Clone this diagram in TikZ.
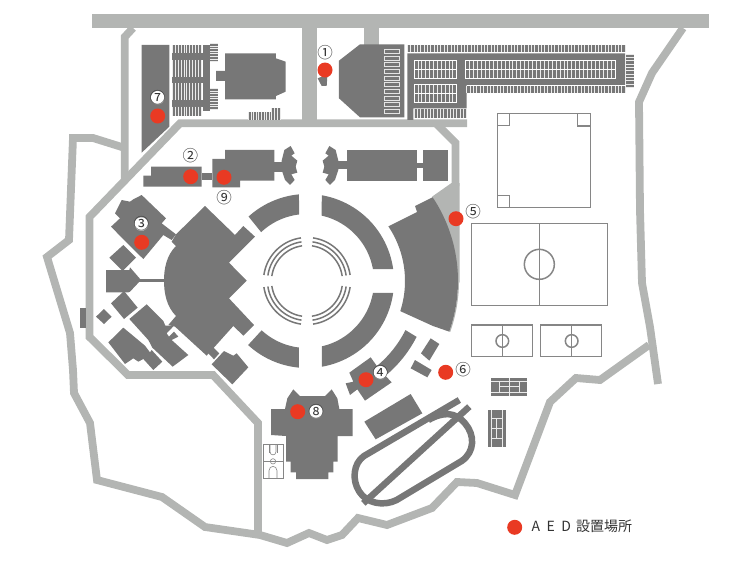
\documentclass[tikz,border=0pt]{standalone}
\usepackage{fontspec}
\setmainfont{Open Sans}
\newfontfamily\jpfont{Noto Sans CJK JP}
\definecolor{bldg}{HTML}{777777}
\definecolor{roadc}{HTML}{B3B5B3}
\definecolor{courtc}{HTML}{868686}
\definecolor{redc}{HTML}{E93A23}
\tikzset{
  road/.style={draw=roadc,line width=7.8pt,line join=miter,line cap=butt},
  bfill/.style={fill=bldg},
  rfill/.style={fill=roadc},
  stripe/.style={draw=white!85!bldg,line width=0.7pt},
  courtline/.style={draw=courtc,line width=1.5pt},
  aed/.style={circle,fill=redc,minimum size=15pt,inner sep=0pt},
  numlabel/.style={circle,fill=white,inner sep=0pt,minimum size=13.5pt,font=\jpfont\fontsize{15.5}{15.5}\selectfont,text=black!80},
}
\newcommand{\circnum}[1]{\makebox[0pt]{\smash{\raisebox{-5.9pt}{#1}}}}
\newcommand{\ringseg}[6]{% r1 r2 outer a1 a2, inner b1 b2
  \fill[bfill] plot[domain=#3:#4,samples=40,smooth] ({307+#2*cos(\x)},{281+#2*sin(\x)})
     -- plot[domain=#6:#5,samples=40,smooth] ({307+#1*cos(\x)},{281+#1*sin(\x)}) -- cycle;}
\newcommand{\thinarc}[3]{\foreach \rr in {35.5,39.5,43.5}{\draw[bldg,line width=1.5pt] plot[domain=#1:#2,samples=30,smooth] ({307+\rr*cos(\x)},{281+\rr*sin(\x)});}}
\newcommand{\vstripes}[5]{%
  \fill[bfill] (#1,#2) rectangle (#3,#4);
  \foreach \i in {0,...,#5}{\pgfmathsetmacro\xx{#1+(#3-#1)/#5*\i}\draw[stripe] (\xx,#2)--(\xx,#4);}}
\newcommand{\hstripes}[5]{%
  \fill[bfill] (#1,#2) rectangle (#3,#4);
  \foreach \i in {0,...,#5}{\pgfmathsetmacro\yy{#2+(#4-#2)/#5*\i}\draw[stripe] (#1,\yy)--(#3,\yy);}}
\newcommand{\gridblock}[5]{%
  \vstripes{#1}{#2}{#3}{#4}{#5}
  \draw[stripe,draw=white,line width=0.8pt] (#1,#2) rectangle (#3,#4);
  \draw[stripe,draw=white,line width=0.8pt] (#1,{(#2+#4)/2}) -- (#3,{(#2+#4)/2});}
\begin{document}
\begin{tikzpicture}[x=1pt,y=-1pt]
\useasboundingbox (0,0) rectangle (750,562);
% roads
\fill[rfill] (92,14) rectangle (709,28);
\fill[rfill] (302,28) rectangle (317,120);
\fill[rfill] (364,28) rectangle (379,46);
\draw[road] (133,28)--(124.7,37)--(124.7,182);
\draw[road] (467,123.3)--(180,123.3)--(89.5,217)--(89.5,337)--(128,375)--(213,375)--(258,423)--(258,535);
\draw[road] (436,123.3)--(455.5,143)--(455.5,186);
\fill[rfill] (451.5,183)--(433,196)--(456,292)--(459.5,282)--(459.5,183)--cycle;
\draw[road] (125,148)--(93,138)--(73,138)--(69,240)--(47,257)--(70,333)--(73,370)--(74,393)--(90,423)--(97,480)--(162,497)--(205,527)--(260,535)--(287,543)--(309,533)--(327,540)--(342,535)--(358,518)--(387,525)--(432,508)--(457,482)--(477,483)--(515,495)--(550,402)--(576,378)--(600,380)--(649,345);
\draw[road] (683,28)--(652,73)--(639,102)--(640,210)--(642,283)--(650,327)--(658,384);
% concentric buildings
\ringseg{67}{87}{-80.2}{-7.9}{-77.4}{-10.3}
\ringseg{67}{87}{7.9}{80.1}{10.3}{77.2}
\ringseg{67}{87}{95.3}{132.6}{96.9}{132.6}
\ringseg{67}{87}{-132.2}{-95.3}{-133.2}{-96.8}
\thinarc{-82}{-8}{}
\thinarc{8}{82}{}
\thinarc{98}{172}{}
\thinarc{188}{262}{}
\draw[roadc,line width=1pt] plot[domain=-34:19.6,samples=30,smooth] ({307+151.5*cos(\x)},{281+151.5*sin(\x)});
\fill[bfill] plot[domain=-33.7:19.6,samples=40,smooth] ({307+151*cos(\x)},{281+151*sin(\x)}) -- (433,326)-- plot[domain=17.9:-33.9,samples=40,smooth] ({307+98*cos(\x)},{281+98*sin(\x)}) -- (417,212)--(415,206)--cycle;
\ringseg{110}{123}{27}{55}{26.5}{55}
% zoom-1 scope: top left
\begin{scope}[shift={(90,10)},scale=1/3]
\fill[bfill] (155,105)--(238,105)--(238,350)--(155,428)--cycle;
\fill[bfill] (340,105) rectangle (360,303);
\fill[bfill] (246,130) rectangle (340,150);
\fill[bfill] (246,200) rectangle (340,220);
\fill[bfill] (246,270) rectangle (340,290);
\vstripes{246}{105}{335}{130}{10}
\vstripes{246}{150}{335}{200}{10}
\vstripes{246}{220}{335}{270}{10}
\vstripes{246}{290}{335}{318}{10}
\hstripes{360}{100}{385}{155}{7}
\hstripes{360}{235}{385}{298}{8}
\fill[bfill] (405,130)--(558,130)--(558,145)--(587,155)--(587,245)--(558,258)--(558,268)--(405,268)--(405,213)--(378,213)--(378,183)--(405,183)--cycle;
\vstripes{475}{305}{545}{330}{9}
\vstripes{545}{295}{572}{330}{3}
\fill[bfill] (683,205)--(695,200)--(712,200)--(710,228)--(695,228)--cycle;
\fill[bfill] (747,152)--(810,103)--(943,103)--(943,322)--(810,322)--(747,265)--cycle;
\foreach \k in {0,...,9}{\draw[draw=white!80!bldg,line width=0.7pt] (882,{118+20*\k}) rectangle (928,{130+20*\k});}
% left central building
\fill[bfill] (183,470)--(335,470)--(335,530)--(160,530)--(160,497)--(183,497)--cycle;
\fill[bfill] (335,490) rectangle (367,510);
\fill[bfill] (405,420)--(553,420)--(553,512)--(450,512)--(450,532)--(367,532)--(367,447)--(405,447)--cycle;
\fill[bfill] (553,455) rectangle (580,485);
\fill[bfill] (602,408)--(583,420)--(575,452)--(575,480)--(585,510)--(600,525)--(614,510)--(604,493)--(622,488)--(617,470)--(622,452)--(604,437)--(614,430)--cycle;
\fill[bfill] (718,408)--(737,420)--(745,452)--(745,480)--(735,510)--(720,525)--(706,510)--(716,493)--(698,488)--(703,470)--(698,452)--(716,437)--(706,430)--cycle;
\fill[bfill] (745,452) rectangle (772,477);
\fill[bfill] (770,420) rectangle (980,512);
\end{scope}
% zoom-2 scope: top right
\begin{scope}[shift={(400,10)},scale=1/3]
\fill[bfill] (47,458) rectangle (68,475);
\fill[bfill] (68,420) rectangle (144,512);
\fill[bfill] (22,130)--(675,130)--(675,225)--(200,225)--(200,295)--(40,295)--(40,330)--(22,330)--cycle;
\vstripes{22}{105}{675}{127}{65}
\gridblock{42}{152}{170}{205}{11}
\gridblock{197}{152}{645}{205}{38}
\gridblock{42}{222}{170}{278}{11}
\vstripes{200}{228}{675}{250}{47}
\vstripes{42}{298}{200}{325}{16}
\hstripes{678}{132}{702}{232}{10}
\draw[courtline] (293,310) rectangle (572,592);
\draw[courtline] (293,347)--(328,347)--(328,310);
\draw[courtline] (533,312)--(533,348)--(572,348);
\draw[courtline] (293,557)--(328,557)--(328,592);
\end{scope}
% zoom-3 scope: west buildings
\begin{scope}[shift={(70,190)},scale=1/3]
\fill[bfill] (405,48)--(495,135)--(520,108)--(555,140)--(477,218)--(530,272)--(477,325)--(552,405)--(520,437)--(490,408)--(410,497)--(315,410)--(295,405)--(318,378) .. controls (290,350) and (282,310) .. (282,272) .. controls (282,235) and (290,195) .. (318,168)--(305,155)--(318,133)--cycle;
\fill[bfill] (215,15)--(288,85)--(275,100)--(318,133)--(305,150)--(280,135)--(220,207)--(190,178)--(123,110)--(150,85)--(135,70)--(155,30)--(180,35)--(190,28)--cycle;
\fill[bfill] (118,203)--(160,165)--(198,203)--(158,243)--cycle;
\fill[bfill] (108,240)--(178,240)--(180,232)--(213,270)--(180,305)--(175,307)--(108,307)--cycle;
\fill[bfill] (205,266) rectangle (285,275);
\fill[bfill] (78,380)--(102,357)--(125,380)--(102,402)--cycle;
\fill[bfill] (30,355) rectangle (48,415);
\fill[bfill] (415,490)--(430,472)--(448,490)--(432,508)--cycle;
\fill[bfill] (425,523)--(462,483)--(490,497)--(500,490)--(535,532)--(487,583)--cycle;
\end{scope}
% south-west cluster
\begin{scope}[shift={(100,295)},scale=1/3]
\fill[bfill] (33,25)--(72,-12)--(113,38)--(72,72)--cycle;
\fill[bfill] (88,72)--(140,28)--(190,78)--(196,92)--(222,92)--(200,115)--(207,125)--(222,110)--(235,125)--(215,135)--(265,180)--(218,215)--(157,158)--(145,135)--cycle;
\fill[bfill] (25,142)--(70,98)--(135,152)--(150,172)--(155,165)--(187,200)--(160,225)--(130,192)--(115,200)--(100,190)--(75,207)--cycle;
\end{scope}
% zoom-5 scope: south
\begin{scope}[shift={(250,350)},scale=1/3]
\fill[bfill] (298,68)--(362,22)--(388,58)--(425,97)--(345,152)--(322,118)--(300,135)--(287,100)--(310,95)--cycle;
\fill[bfill] (343,215)--(482,132)--(517,190)--(377,268)--cycle;
\fill[bfill] (130,118)--(150,138)--(225,138)--(245,118)--(262,145)--(268,177)--(308,177)--(308,258)--(263,258)--(263,335)--(250,335)--(250,367)--(235,367)--(235,387)--(138,387)--(138,367)--(122,367)--(122,335)--(108,335)--(108,258)--(63,255)--(63,177)--(105,177)--(112,145)--cycle;
\begin{scope}[courtc]
\draw[line width=0.6pt] (40,283) rectangle (100,385);
\draw[line width=0.6pt] (40,334)--(100,334);
\draw[line width=0.6pt] (69,334) circle (8);
\draw[line width=0.6pt] (57,283)--(57,310) (81,283)--(81,310);
\draw[line width=0.6pt] (60,283)--(60,305) .. controls (60,318) and (78,318) .. (78,305)--(78,283);
\draw[line width=0.6pt] (57,385)--(57,362) .. controls (57,345) and (81,345) .. (81,362)--(81,385);
\end{scope}
\end{scope}
% running track
\begin{scope}[shift={(350,395)},scale=1/3]
\draw[bldg,line width=6.5pt,line join=round] (328,15)--(42,183) .. controls (10,205) and (5,255) .. (28,290) .. controls (50,325) and (100,335) .. (140,315)--(335,198) .. controls (375,170) and (375,120) .. (345,85) .. controls (315,50) and (280,50) .. (235,75);
\draw[bldg,line width=6.5pt] (358,35)--(40,325);
\end{scope}
% zoom-4 scope: small rects
\begin{scope}[shift={(240,190)},scale=1/3]
\fill[bfill] (572,445)--(598,462)--(568,512)--(543,490)--cycle;
\fill[bfill] (525,510)--(575,540)--(562,562)--(512,535)--cycle;
\end{scope}
% zoom-6 scope: sports fields
\begin{scope}[shift={(460,210)},scale=1/3]
\draw[courtline] (35,40) rectangle (442,287);
\draw[courtline] (238,40)--(238,287);
\draw[courtline] (238,163) circle (45);
\draw[courtline] (35,345) rectangle (218,440);
\draw[courtline] (127,345)--(127,440);
\draw[courtline] (127,393) circle (19);
\draw[courtline] (242,345) rectangle (425,440);
\draw[courtline] (335,345)--(335,440);
\draw[courtline] (335,393) circle (19);
\end{scope}
% tennis courts
\begin{scope}[shift={(480,370)},scale=1/3]
\fill[bfill] (33,25) rectangle (142,77);
\draw[stripe,line width=0.9pt] (33,35)--(142,35) (33,67)--(142,67) (57,35)--(57,67) (118,35)--(118,67) (87,25)--(87,77) (57,50)--(118,50);
\fill[bfill] (25,120) rectangle (77,230);
\draw[stripe,line width=0.9pt] (33,120)--(33,230) (67,120)--(67,230) (33,145)--(67,145) (33,175)--(67,175) (33,205)--(67,205) (50,145)--(50,205);
\end{scope}
% AED markers
\node[aed] (d1) at (325,70) {};
\node[aed] (d7) at (157.7,116) {};
\node[aed] (d2) at (190.7,176.7) {};
\node[aed] (d9) at (224,177.3) {};
\node[aed] (d3) at (141.7,242.3) {};
\node[aed] (d5) at (456,218.7) {};
\node[aed] (d4) at (366,379.7) {};
\node[aed] (d6) at (445.7,372.3) {};
\node[aed] (d8) at (297.7,411.7) {};
\node[aed] (dl) at (514.7,527.3) {};
\node[numlabel] (n1) at (325,53) {\circnum{①}};
\node[numlabel] (n7) at (157.7,97.7) {\circnum{⑦}};
\node[numlabel] (n2) at (190.3,156) {\circnum{②}};
\node[numlabel] (n9) at (224,197.3) {\circnum{⑨}};
\node[numlabel] (n3) at (141.3,224) {\circnum{③}};
\node[numlabel] (n5) at (473,211.7) {\circnum{⑤}};
\node[numlabel] (n4) at (380.3,372.7) {\circnum{④}};
\node[numlabel] (n6) at (463,370) {\circnum{⑥}};
\node[numlabel] (n8) at (316,411.7) {\circnum{⑧}};
\node[anchor=west,inner sep=0pt,text=black!80,font=\jpfont\fontsize{14}{14}\selectfont] (legend) at (531.5,526) {{\spaceskip=6.5pt A E D} \hspace{2pt}設置場所};
\end{tikzpicture}
\end{document}
